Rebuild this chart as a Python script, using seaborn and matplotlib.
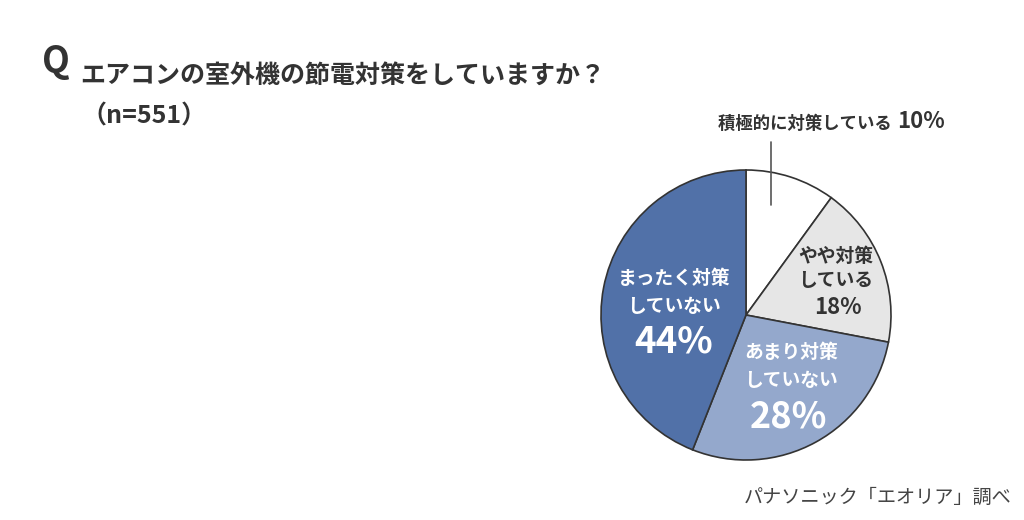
import matplotlib
matplotlib.use('Agg')
import matplotlib.pyplot as plt
import seaborn as sns

# Data
categories = ['積極的に対策している', 'やや対策している', 'あまり対策していない', 'まったく対策していない']
shares = [10, 18, 28, 44]
colors = ['#ffffff', '#e6e6e6', '#94a8cc', '#5171a8']

sns.set_theme(style='white')
plt.rcParams['font.family'] = ['Noto Sans CJK JP', 'DejaVu Sans']

W, H = 1024, 520
fig = plt.figure(figsize=(W / 100, H / 100), dpi=100)
fig.patch.set_facecolor('white')


def px(x, y):
    # pixel position -> figure fraction
    return x / W, 1 - y / H


txt = '#333333'

# Title
fig.text(*px(42, 62), 'Q', fontsize=26, fontweight='bold', color=txt, va='center', ha='left')
fig.text(*px(80, 76), 'エアコンの室外機の節電対策をしていますか？', fontsize=18,
         fontweight='bold', color=txt, va='center', ha='left')
fig.text(*px(81, 116), '（n=551）', fontsize=18, fontweight='bold', color=txt,
         va='center', ha='left')

# Pie
cx, cy, r = 746, 315, 145
ax = fig.add_axes([(cx - r) / W, 1 - (cy + r) / H, 2 * r / W, 2 * r / H])
ax.pie(shares, colors=colors, startangle=90, counterclock=False,
       wedgeprops=dict(edgecolor='#333333', linewidth=1.2))
ax.set_aspect('auto')
ax.set_xlim(-1, 1)
ax.set_ylim(-1, 1)

# Outside label for 10% slice
fig.text(*px(896, 124), categories[0] + ' ', fontsize=12.5, fontweight='bold', color=txt,
         va='center', ha='right')
fig.text(*px(897, 122), f'{shares[0]}%', fontsize=16, fontweight='bold', color=txt,
         va='center', ha='left')
fig.lines.append(plt.Line2D([771 / W, 771 / W], [1 - 142 / H, 1 - 205 / H],
                            transform=fig.transFigure, color='#555555', linewidth=1.2))

# In-slice labels
lab = dict(fontsize=13.5, fontweight='bold', ha='center', va='center')
fig.text(*px(836, 256), 'やや対策', color=txt, **lab)
fig.text(*px(836, 281), 'している', color=txt, **lab)
fig.text(*px(838, 307), f'{shares[1]}%', fontsize=16, fontweight='bold', color=txt, ha='center', va='center')

fig.text(*px(791, 353), 'あまり対策', color='white', **lab)
fig.text(*px(791, 381), 'していない', color='white', **lab)
fig.text(*px(788, 417), f'{shares[2]}%', fontsize=26, fontweight='bold', color='white', ha='center', va='center')

fig.text(*px(674, 279), 'まったく対策', color='white', **lab)
fig.text(*px(674, 307), 'していない', color='white', **lab)
fig.text(*px(674, 342), f'{shares[3]}%', fontsize=26.5, fontweight='bold', color='white', ha='center', va='center')

# Source
fig.text(*px(1012, 497), 'パナソニック「エオリア」調べ', fontsize=13.8, color='#444444',
         ha='right', va='center')

fig.savefig('out.png', dpi=100, facecolor='white')
